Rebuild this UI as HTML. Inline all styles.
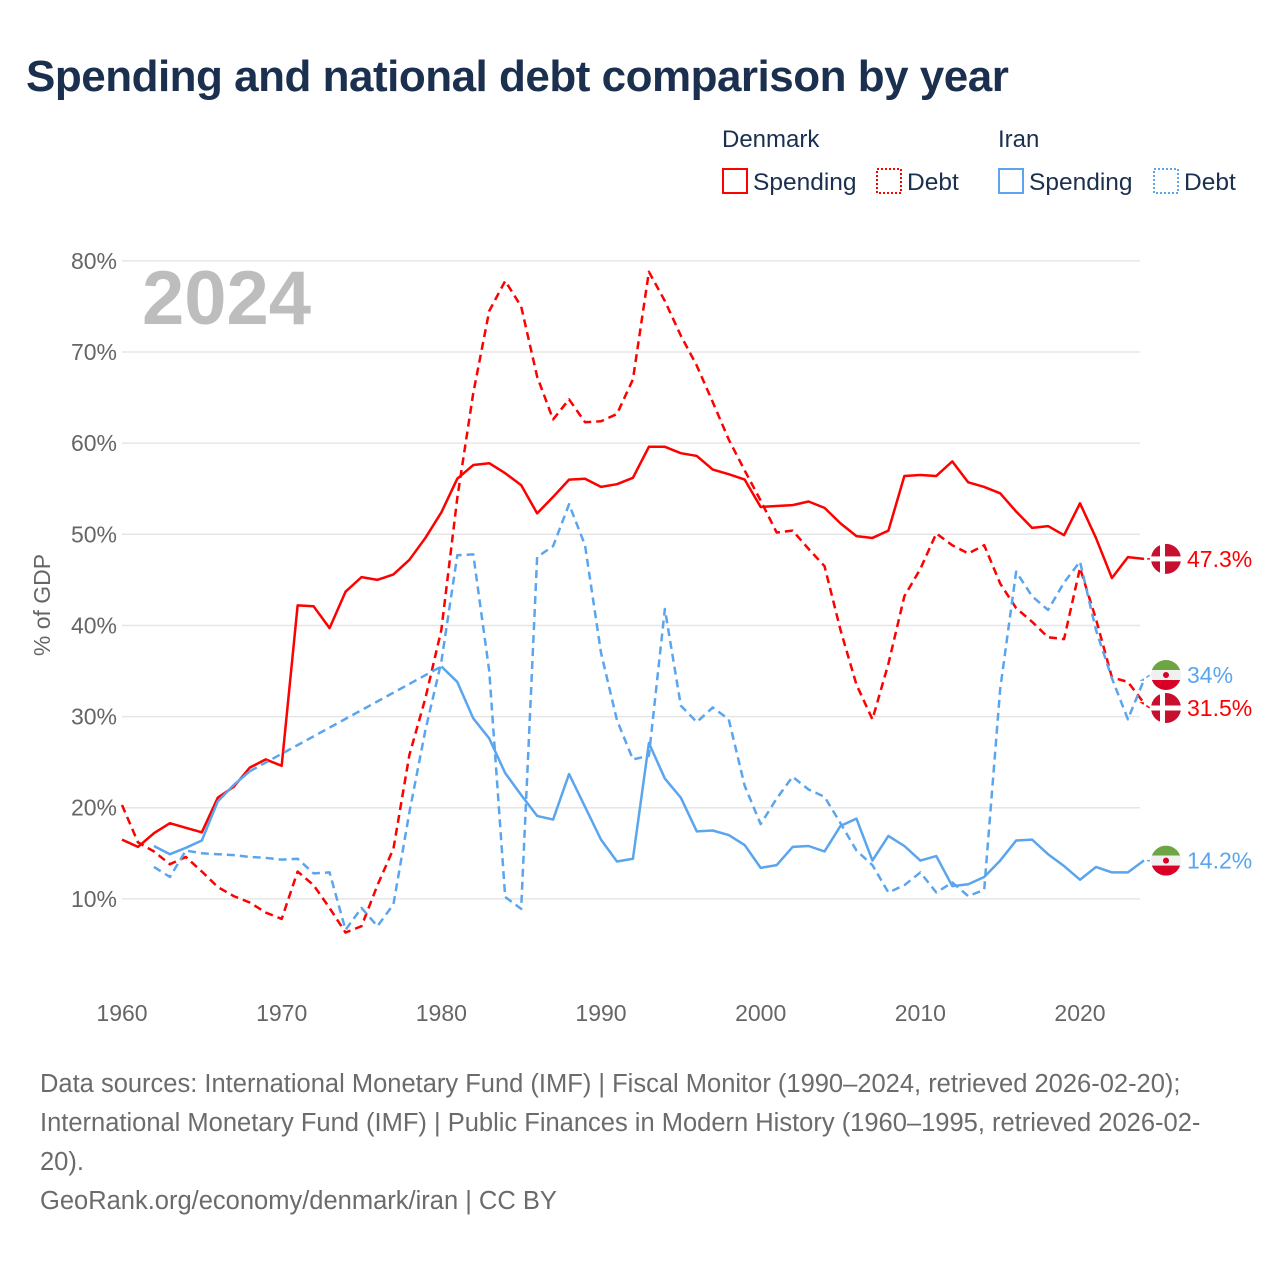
<!DOCTYPE html>
<html><head><meta charset="utf-8"><style>
body{margin:0;background:#fff;font-family:"Liberation Sans",sans-serif;}
#wrap{position:relative;width:1280px;height:1280px;overflow:hidden}
h1{position:absolute;left:26px;top:52px;margin:0;font-size:44px;font-weight:bold;color:#1b2f4f;letter-spacing:-0.5px}
.foot{position:absolute;left:40px;font-size:25.5px;color:#6b6b6b;line-height:39px}
</style></head><body>
<div id="wrap">
<h1>Spending and national debt comparison by year</h1>
<svg id="chart" width="1280" height="1280" style="position:absolute;left:0;top:0"></svg>
<div class="foot" style="top:1065px;width:1195px">Data sources: International Monetary Fund (IMF) | Fiscal Monitor (1990–2024, retrieved 2026-02-20); International Monetary Fund (IMF) | Public Finances in Modern History (1960–1995, retrieved 2026-02-20).</div>
<div class="foot" style="top:1182px">GeoRank.org/economy/denmark/iran | CC BY</div>
</div>
<script>
const years=[];for(let y=1960;y<=2024;y++)years.push(y);
const yTicks=[10,20,30,40,50,60,70,80];
const xTicks=[1960,1970,1980,1990,2000,2010,2020];
const dkSpending=[16.5,15.7,17.2,18.3,17.8,17.3,21.1,22.3,24.4,25.3,24.6,42.2,42.1,39.7,43.7,45.3,45.0,45.6,47.2,49.6,52.4,56.1,57.6,57.8,56.7,55.4,52.3,54.1,56.0,56.1,55.2,55.5,56.2,59.6,59.6,58.9,58.6,57.1,56.6,56.0,53.0,53.1,53.2,53.6,52.9,51.2,49.8,49.6,50.4,56.4,56.5,56.4,58.0,55.7,55.2,54.5,52.5,50.7,50.9,49.9,53.4,49.6,45.2,47.5,47.3];
const dkDebt=[20.3,16.2,15.2,13.8,14.6,13.0,11.3,10.3,9.6,8.5,7.8,13.0,11.5,9.0,6.3,7.0,11.5,15.5,25.8,32.0,39.5,54.0,65.5,74.5,77.8,75.0,67.3,62.6,64.8,62.3,62.4,63.2,67.0,78.8,75.6,71.8,68.5,64.5,60.4,57.0,53.7,50.2,50.4,48.4,46.5,39.5,33.5,29.7,35.8,43.2,46.2,50.1,48.8,47.9,48.8,44.6,41.9,40.4,38.7,38.5,46.3,40.7,34.3,33.8,31.5];
const irSpending=[null,null,15.8,14.9,15.6,16.4,20.7,22.5,24.0,null,null,null,null,null,null,null,null,null,null,null,35.5,33.8,29.8,27.6,23.8,21.4,19.1,18.7,23.7,20.1,16.5,14.1,14.4,27.1,23.2,21.1,17.4,17.5,17.0,15.9,13.4,13.7,15.7,15.8,15.2,18.0,18.8,14.2,16.9,15.8,14.2,14.7,11.4,11.6,12.4,14.2,16.4,16.5,14.9,13.6,12.1,13.5,12.9,12.9,14.2];
const irDebt=[null,null,13.5,12.4,15.3,15.0,14.9,14.8,14.6,14.5,14.3,14.4,12.8,12.9,6.6,9.0,7.0,9.4,19.5,28.5,36.0,47.7,47.8,35.0,10.2,8.9,47.5,48.7,53.3,48.8,37.0,29.6,25.3,25.7,41.8,31.2,29.4,31.0,29.7,22.4,18.2,21.0,23.4,22.0,21.2,18.3,15.3,13.7,10.7,11.5,12.9,10.7,11.8,10.3,11.0,33.0,45.9,43.2,41.7,44.7,47.0,39.5,34.2,29.7,34.0];
const RED='#ff0000',BLUE='#5aa5ee';
const X=y=>122+(y-1960)*958/60;
const Y=v=>990-v*9.114;
const svg=document.getElementById('chart');const NS='http://www.w3.org/2000/svg';
function mk(t,a,p){const e=document.createElementNS(NS,t);for(const k in a)e.setAttribute(k,a[k]);(p||svg).appendChild(e);return e;}
yTicks.forEach(v=>{
 const g=mk('line',{x1:122,x2:1140,y1:Y(v),y2:Y(v),stroke:'#e6e6e6','stroke-width':1.5});
 
 
 const t=mk('text',{x:117,y:Y(v)+8,'text-anchor':'end','font-size':23,fill:'#666'});t.textContent=v+'%';
 
 
});
xTicks.forEach(v=>{
 const t=mk('text',{x:X(v),y:1021,'text-anchor':'middle','font-size':23,fill:'#666'});t.textContent=v;
 
 
});
const yt=mk('text',{x:50,y:605,'text-anchor':'middle','font-size':23,fill:'#666',transform:'rotate(-90 50 605)'});yt.textContent='% of GDP';


const yr=mk('text',{x:142,y:324,'font-size':76,'font-weight':'bold',fill:'#bdbdbd'});yr.textContent='2024';


function series(vals,color,dash,name){
 let segs=[],cur=[],gaps=[],last=null;
 vals.forEach((v,i)=>{
  if(v==null){if(cur.length)segs.push(cur);cur=[];}
  else{const p=[X(years[i]),Y(v)];if(!cur.length&&last&&last.i<i-1)gaps.push([last.p,p]);cur.push(p);last={i,p};}
 });
 if(cur.length)segs.push(cur);
 segs.forEach(s=>{
  const e=mk('polyline',{points:s.map(p=>p.join(',')).join(' '),fill:'none',stroke:color,'stroke-width':2.5,'stroke-linejoin':'round'});
  if(dash)e.setAttribute('stroke-dasharray','8,5');
  
  
 });
 gaps.forEach(g=>{
  const e=mk('line',{x1:g[0][0],y1:g[0][1],x2:g[1][0],y2:g[1][1],stroke:color,'stroke-width':2.5,'stroke-dasharray':'8,5'});
  
  
 });
}
series(dkSpending,RED,false,'denmark-spending-line');
series(dkDebt,RED,true,'denmark-debt-line');
series(irSpending,BLUE,false,'iran-spending-line');
series(irDebt,BLUE,true,'iran-debt-line');
function flag(cx,cy,country){
 const g=mk('g',{});
 if(country==='dk'){
  mk('circle',{cx,cy,r:15,fill:'#c8102e'},g);
  mk('rect',{x:cx-6,y:cy-15,width:5,height:30,fill:'#fff'},g);
  mk('rect',{x:cx-15,y:cy-2.5,width:30,height:5,fill:'#fff'},g);
 }else{
  const cp='cp'+Math.round(cy);
  const d=mk('clipPath',{id:cp},g);mk('circle',{cx,cy,r:15},d);
  const gg=mk('g',{'clip-path':'url(#'+cp+')'},g);
  mk('rect',{x:cx-15,y:cy-15,width:30,height:10,fill:'#6da544'},gg);
  mk('rect',{x:cx-15,y:cy-5,width:30,height:10,fill:'#f0f0f0'},gg);
  mk('rect',{x:cx-15,y:cy+5,width:30,height:10,fill:'#d80027'},gg);
  mk('circle',{cx,cy,r:3,fill:'#d80027'},gg);
 }
 return g;
}
const ends=[
 {vals:dkSpending,color:RED,c:'dk',name:'denmark-spending-end'},
 {vals:dkDebt,color:RED,c:'dk',name:'denmark-debt-end'},
 {vals:irSpending,color:BLUE,c:'ir',name:'iran-spending-end'},
 {vals:irDebt,color:BLUE,c:'ir',name:'iran-debt-end'}];
ends.forEach(e=>{e.v=e.vals[e.vals.length-1];e.y=Y(e.v);e.ly=e.y;});
const sorted=ends.slice().sort((a,b)=>a.y-b.y);
for(let i=1;i<sorted.length;i++){
 const a=sorted[i-1],b=sorted[i];
 if(b.ly-a.ly<33){const mid=(a.ly+b.ly)/2;a.ly=mid-16.5;b.ly=mid+16.5;}
}
ends.forEach(e=>{
 const x=X(2024);
 const l=mk('polyline',{points:`${x},${e.y} 1142,${e.y} 1150,${e.ly}`,fill:'none',stroke:e.color,'stroke-width':1.5,'stroke-dasharray':'4,3'});
 
 
 const f=flag(1166,e.ly,e.c);
 
 
 const t=mk('text',{x:1187,y:e.ly+8,'font-size':23,fill:e.color});t.textContent=e.v+'%';
 
 
});
function txt(x,y,s,size,fill,name){const t=mk('text',{x,y,'font-size':size,fill});t.textContent=s;return t;}
txt(722,147,'Denmark',24,'#1b2f4f','legend-title-denmark');
txt(998,147,'Iran',24,'#1b2f4f','legend-title-iran');
function sw(x,color,dash,label,name){
 const r=mk('rect',{x:x,y:169,width:24,height:24,fill:'none',stroke:color,'stroke-width':2});
 if(dash)r.setAttribute('stroke-dasharray','2,2');
 
 
 txt(x+30,190,label,24.5,'#1b2f4f',name+'-label');
}
sw(723,RED,false,'Spending','legend-denmark-spending');
sw(877,RED,true,'Debt','legend-denmark-debt');
sw(999,BLUE,false,'Spending','legend-iran-spending');
sw(1154,BLUE,true,'Debt','legend-iran-debt');
</script>
</body></html>
